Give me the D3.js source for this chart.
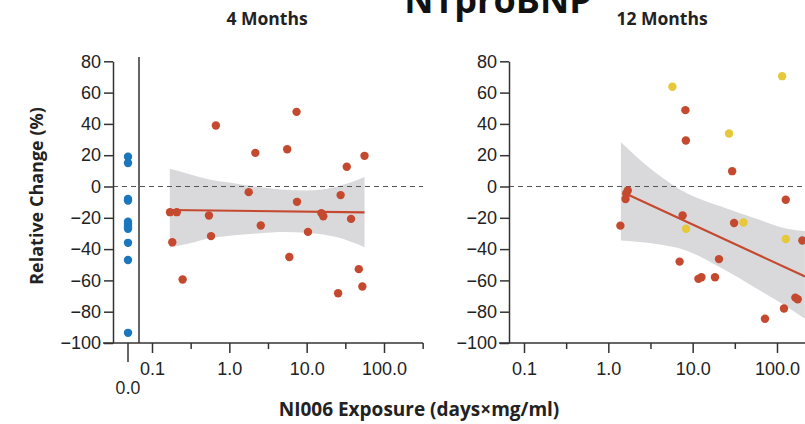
<!DOCTYPE html>
<html>
<head>
<meta charset="utf-8">
<script src="https://cdn.jsdelivr.net/npm/d3@7"></script>
<style>
  body { margin: 0; background: #fff; }
  svg { display: block; font-family: "Open Sans", sans-serif; }
  .tick text { font-size: 18px; fill: #222; }
  .axis path, .axis line { stroke: #333; stroke-width: 1.5; }
</style>
</head>
<body>
<svg id="chart" width="805" height="424"></svg>
<script>
// y ticks shared by both panels
const yTicks = [-100, -80, -60, -40, -20, 0, 20, 40, 60, 80];
const xMajor = [0.1, 1, 10, 100];
const xMinor = [0.316, 3.16, 31.6, 316];

// 4 months
const zero4 = [19, 15, -8, -9, -22.5, -24, -25.5, -27, -36, -47, -93.5];
const exp4 = [0.67, 2.17, 5.6, 7.4, 33, 56, 1.78, 7.5, 27.5, 0.171, 0.209, 0.183, 0.249, 0.545, 0.58, 2.55, 5.97, 10.4, 15.5, 16.4, 37.5, 47.2, 52.5, 25.5];
const chg4 = [39, 21.5, 23.8, 47.7, 12.6, 19.6, -3.6, -9.8, -5.5, -16.4, -16.4, -35.6, -59.4, -18.5, -31.7, -24.9, -45, -29, -17, -19, -20.7, -52.8, -63.9, -68.2];
const fitX4 = [0.17, 56];
const fitY4 = [-15, -16.5];
const bandX4 = [0.17, 0.3, 0.5, 1, 2.5, 5, 10, 25, 56];
const bandHi4 = [11.3, 8, 5, 2.5, -0.5, -2, -2.5, 0, 6];
const bandLo4 = [-39, -36.5, -33.5, -31.5, -29.8, -29, -29.5, -32.5, -38.8];

// 12 months
const expRed12 = [8.2, 8.3, 29.4, 127, 1.70, 1.63, 1.60, 1.39, 7.6, 7.0, 11.7, 12.7, 18.4, 20.5, 31, 200, 72, 121, 165, 176];
const chgRed12 = [48.8, 29.4, 9.8, -8.5, -2.5, -4.5, -8, -25, -18.5, -48, -59, -58, -58, -46.4, -23.3, -34.5, -84.5, -78, -71, -72];
const expYel12 = [5.75, 115, 27, 8.35, 40, 127];
const chgYel12 = [63.7, 70.5, 33.9, -27, -23, -33.5];
const fitX12 = [1.6, 215];
const fitY12 = [-4.5, -57.5];
const bandX12 = [1.41, 3.39, 8.5, 20.9, 52.5, 132, 214];
const bandHi12 = [28.3, 10, -4.3, -12.5, -20, -27, -28.5];
const bandLo12 = [-34.5, -36.5, -41, -51.5, -64, -77, -84.5];

const red = "#c5492f", blue = "#1b77bd", yellow = "#e6c83a", band = "#d9d9db";

const svg = d3.select("#chart");
const y = d3.scaleLinear().domain([-100, 80]).range([343, 61.3]);

function panel(opt) {
  const g = svg.append("g");
  const x = d3.scaleLog().domain([0.1, 100]).range(opt.xr);

  // confidence band
  const bd = opt.bx.map((v, i) => ({x: v, lo: opt.lo[i], hi: opt.hi[i]}));
  g.append("path").datum(bd)
    .attr("fill", band)
    .attr("d", d3.area().x(d => x(d.x)).y0(d => y(d.lo)).y1(d => y(d.hi)).curve(d3.curveMonotoneX));

  // zero line
  g.append("line")
    .attr("x1", opt.dash[0]).attr("x2", opt.dash[1])
    .attr("y1", y(0)).attr("y2", y(0))
    .attr("stroke", "#555").attr("stroke-width", 1.2).attr("stroke-dasharray", "5,4");

  // fit line
  g.append("line")
    .attr("x1", x(opt.fx[0])).attr("x2", x(opt.fx[1]))
    .attr("y1", y(opt.fy[0])).attr("y2", y(opt.fy[1]))
    .attr("stroke", red).attr("stroke-width", 2.2);

  // y axis
  g.append("g").attr("class", "axis")
    .attr("transform", `translate(${opt.yx},0)`)
    .call(d3.axisLeft(y).tickValues(yTicks).tickSize(9).tickSizeOuter(0).tickPadding(3));

  // x axis
  const ax = g.append("g").attr("class", "axis").attr("transform", "translate(0,343)");
  ax.call(d3.axisBottom(x).tickValues(xMajor).tickFormat(d3.format(".1f")).tickSize(10).tickPadding(9));
  ax.select(".domain").remove();
  const mn = g.append("g").attr("class", "axis").attr("transform", "translate(0,343)");
  mn.call(d3.axisBottom(x).tickValues(xMinor.filter(v => x(v) < 805)).tickFormat("").tickSize(6));
  mn.select(".domain").remove();
  g.append("line")
    .attr("x1", opt.yx - 10).attr("x2", opt.xend)
    .attr("y1", 343).attr("y2", 343)
    .attr("stroke", "#333").attr("stroke-width", 1.5);

  // title
  g.append("text")
    .attr("x", opt.tx).attr("y", 25)
    .attr("text-anchor", "middle")
    .attr("font-weight", 700).attr("font-size", 17.5).attr("fill", "#222")
    .text(opt.title);

  return {g, x};
}

// left panel
const p4 = panel({
  xr: [152, 384], yx: 113, xend: 423, dash: [113, 423], tx: 267, title: "4 Months",
  bx: bandX4, lo: bandLo4, hi: bandHi4, fx: fitX4, fy: fitY4
});
// zero exposure column
const zx = 128;
p4.g.append("line")
  .attr("x1", 139).attr("x2", 139).attr("y1", 57).attr("y2", 343)
  .attr("stroke", "#333").attr("stroke-width", 1.5);
p4.g.append("line")
  .attr("x1", zx).attr("x2", zx).attr("y1", 343).attr("y2", 362)
  .attr("stroke", "#333").attr("stroke-width", 1.5);
p4.g.append("text")
  .attr("x", zx).attr("y", 394).attr("text-anchor", "middle")
  .attr("font-size", 18).attr("fill", "#222").text("0.0");
p4.g.selectAll(".zero").data(zero4).join("circle")
  .attr("cx", zx).attr("cy", d => y(d)).attr("r", 4.2).attr("fill", blue);
p4.g.selectAll(".red").data(exp4).join("circle")
  .attr("cx", d => p4.x(d)).attr("cy", (d, i) => y(chg4[i])).attr("r", 4.2).attr("fill", red);

// right panel
const p12 = panel({
  xr: [524, 777], yx: 509, xend: 805, dash: [509, 805], tx: 662, title: "12 Months",
  bx: bandX12, lo: bandLo12, hi: bandHi12, fx: fitX12, fy: fitY12
});
p12.g.selectAll(".yel").data(expYel12).join("circle")
  .attr("cx", d => p12.x(d)).attr("cy", (d, i) => y(chgYel12[i])).attr("r", 4.2).attr("fill", yellow);
p12.g.selectAll(".red").data(expRed12).join("circle")
  .attr("cx", d => p12.x(d)).attr("cy", (d, i) => y(chgRed12[i])).attr("r", 4.2).attr("fill", red);

// main title (cut at top)
svg.append("text")
  .attr("x", 498).attr("y", 13).attr("text-anchor", "middle")
  .attr("font-weight", 700).attr("font-size", 36).attr("fill", "#111")
  .text("NTproBNP");

// axis labels
svg.append("text")
  .attr("transform", "translate(43,196) rotate(-90)")
  .attr("text-anchor", "middle")
  .attr("font-weight", 700).attr("font-size", 18).attr("fill", "#222")
  .text("Relative Change (%)");
svg.append("text")
  .attr("x", 419).attr("y", 416).attr("text-anchor", "middle")
  .attr("font-weight", 700).attr("font-size", 19).attr("fill", "#222")
  .text("NI006 Exposure (days×mg/ml)");
</script>
</body>
</html>
